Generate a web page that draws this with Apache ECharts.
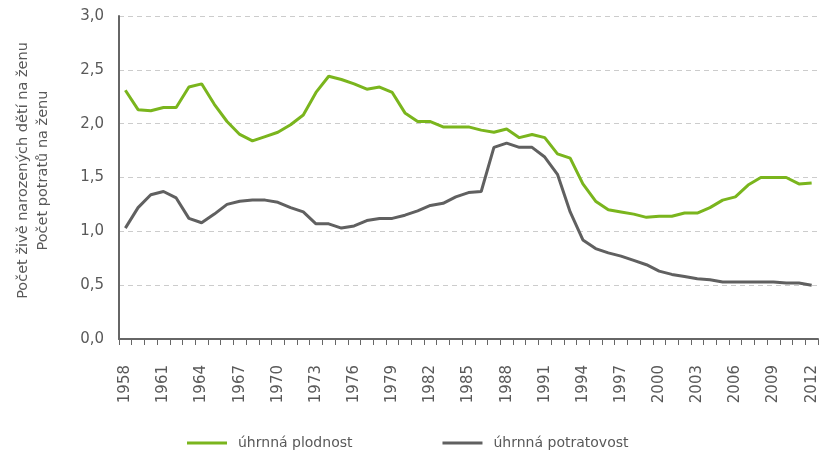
<!DOCTYPE html>
<html>
<head>
<meta charset="utf-8">
<script src="https://cdn.jsdelivr.net/npm/echarts@6/dist/echarts.min.js"></script>
<style>
  html, body { margin: 0; padding: 0; background: #fff; }
  #main { width: 826px; height: 460px; }
</style>
</head>
<body>
<div id="main"></div>
<script>
// roky 1958 - 2012
const years = [];
for (let y = 1958; y <= 2012; y++) years.push(String(y));

const plodnost = [
  2.31, 2.13, 2.12, 2.15, 2.15, 2.34, 2.37, 2.18, 2.02, 1.90,
  1.84, 1.88, 1.92, 1.99, 2.08, 2.29, 2.44, 2.41, 2.37, 2.32,
  2.34, 2.29, 2.10, 2.02, 2.02, 1.97, 1.97, 1.97, 1.94, 1.92,
  1.95, 1.87, 1.90, 1.87, 1.72, 1.68, 1.44, 1.28, 1.20, 1.18,
  1.16, 1.13, 1.14, 1.14, 1.17, 1.17, 1.22, 1.29, 1.32, 1.43,
  1.50, 1.50, 1.50, 1.44, 1.45
];

const potratovost = [
  1.03, 1.22, 1.34, 1.37, 1.31, 1.12, 1.08, 1.16, 1.25, 1.28,
  1.29, 1.29, 1.27, 1.22, 1.18, 1.07, 1.07, 1.03, 1.05, 1.10,
  1.12, 1.12, 1.15, 1.19, 1.24, 1.26, 1.32, 1.36, 1.37, 1.78,
  1.82, 1.78, 1.78, 1.69, 1.53, 1.18, 0.92, 0.84, 0.80, 0.77,
  0.73, 0.69, 0.63, 0.60, 0.58, 0.56, 0.55, 0.53, 0.53, 0.53,
  0.53, 0.53, 0.52, 0.52, 0.50
];

const seriesNames = ["úhrnná plodnost", "úhrnná potratovost"];
const yName = "Počet živě narozených dětí na ženu\nPočet potratů na ženu";

const font = "'DejaVu Sans', sans-serif";
const textColor = "#595959";

let myChart = echarts.init(document.getElementById("main"));

let option = {
  animation: false,
  textStyle: { fontFamily: font },
  grid: { left: 119, right: 8, top: 16, bottom: 121, outerBoundsMode: "none", containLabel: false },
  legend: {
    left: 182,
    top: 431,
    itemGap: 90,
    itemWidth: 40,
    itemHeight: 3,
    icon: "rect",
    textStyle: { fontFamily: font, fontSize: 14, color: textColor, padding: [0, 0, 0, 6] },
    data: seriesNames,
  },
  xAxis: {
    type: "category",
    boundaryGap: true,
    data: years,
    axisLine: { lineStyle: { color: "#666", width: 2 } },
    axisTick: { show: true, interval: 0, length: 6, lineStyle: { color: "#666", width: 1 } },
    axisLabel: {
      interval: 2,
      rotate: 90,
      margin: 26,
      fontSize: 15,
      color: textColor,
      fontFamily: font,
      padding: [6, 0, 0, 0],
    },
  },
  yAxis: {
    type: "value",
    min: 0,
    max: 3,
    interval: 0.5,
    name: yName,
    nameLocation: "middle",
    nameGap: 66,
    nameTextStyle: {
      fontSize: 14.5,
      color: textColor,
      fontFamily: font,
      lineHeight: 20,
      padding: [0, 0, 0, 14],
    },
    axisLine: { show: true, lineStyle: { color: "#666", width: 2 } },
    axisTick: { show: false },
    axisLabel: {
      fontSize: 15,
      color: textColor,
      margin: 15,
      fontFamily: font,
      formatter: (v) => v.toFixed(1).replace(".", ","),
    },
    splitLine: {
      show: true,
      lineStyle: { color: "#cccccc", type: [5, 4], width: 1 },
    },
  },
  series: [
    {
      name: seriesNames[0],
      type: "line",
      data: plodnost,
      showSymbol: false,
      symbol: "none",
      lineStyle: { color: "#7ab51d", width: 3 },
      itemStyle: { color: "#7ab51d" },
    },
    {
      name: seriesNames[1],
      type: "line",
      data: potratovost,
      showSymbol: false,
      symbol: "none",
      lineStyle: { color: "#606060", width: 3 },
      itemStyle: { color: "#606060" },
    },
  ],
};

myChart.setOption(option);
</script>
</body>
</html>
